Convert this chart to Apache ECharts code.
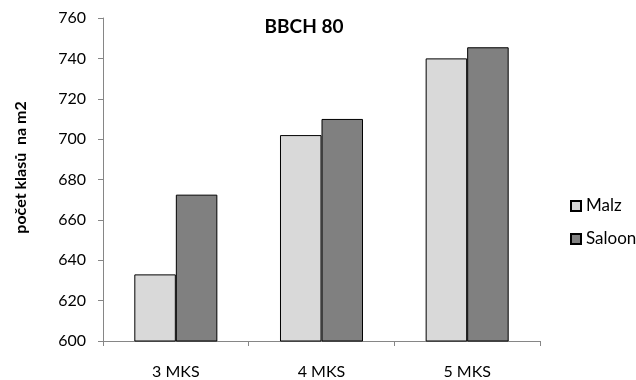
<!DOCTYPE html>
<html>
<head>
<meta charset="utf-8">
<script src="https://cdn.jsdelivr.net/npm/echarts@6/dist/echarts.min.js"></script>
<style>html,body{margin:0;padding:0;background:#fff}#c{width:636px;height:380px}</style>
</head>
<body>
<div id="c"></div>
<script>
const categories = ['3 MKS', '4 MKS', '5 MKS'];
const malz = [633, 702, 740];
const saloon = [672.5, 710, 745.5];
const seriesNames = ['Malz', 'Saloon'];
const titleText = 'BBCH 80';
const yAxisTitle = 'počet klasů  na m2';

const font = 'Lato, "Open Sans", sans-serif';
const chart = echarts.init(document.getElementById('c'), null, {renderer: 'canvas'});
chart.setOption({
  animation: false,
  backgroundColor: '#fff',
  title: {
    text: titleText, left: 304, top: 17, textAlign: 'center', padding: 0,
    textStyle: {fontFamily: font, fontWeight: 'bold', fontSize: 19, color: '#000'}
  },
  legend: {
    orient: 'vertical', left: 570, top: 197.5, itemGap: 16, padding: 0,
    itemWidth: 10, itemHeight: 10, icon: 'rect',
    textStyle: {fontFamily: font, fontSize: 17, color: '#000'},
    data: seriesNames
  },
  grid: {left: 103, right: 96, top: 18, bottom: 38.5, containLabel: false},
  xAxis: {
    type: 'category', data: categories,
    axisLine: {lineStyle: {color: '#868686', width: 1}},
    axisTick: {show: true, length: 5, lineStyle: {color: '#868686'}},
    axisLabel: {fontFamily: font, fontSize: 16, color: '#000', margin: 23}
  },
  yAxis: {
    type: 'value', min: 600, max: 760, interval: 20,
    name: yAxisTitle, nameLocation: 'middle', nameGap: 74, nameRotate: 90,
    nameTextStyle: {fontFamily: font, fontWeight: 'bold', fontSize: 16, color: '#000', padding: [0, 0, 0, 24]},
    axisLine: {show: true, lineStyle: {color: '#868686', width: 1}},
    axisTick: {show: true, length: 5, lineStyle: {color: '#868686'}},
    axisLabel: {fontFamily: font, fontSize: 16, color: '#000', margin: 17},
    splitLine: {show: false}
  },
  series: [
    {name: seriesNames[0], type: 'bar', data: malz, barGap: '0%', barCategoryGap: '43%',
     itemStyle: {color: '#d9d9d9', borderColor: '#000', borderWidth: 1}},
    {name: seriesNames[1], type: 'bar', data: saloon,
     itemStyle: {color: '#808080', borderColor: '#000', borderWidth: 1}}
  ]
});
</script>
</body>
</html>
